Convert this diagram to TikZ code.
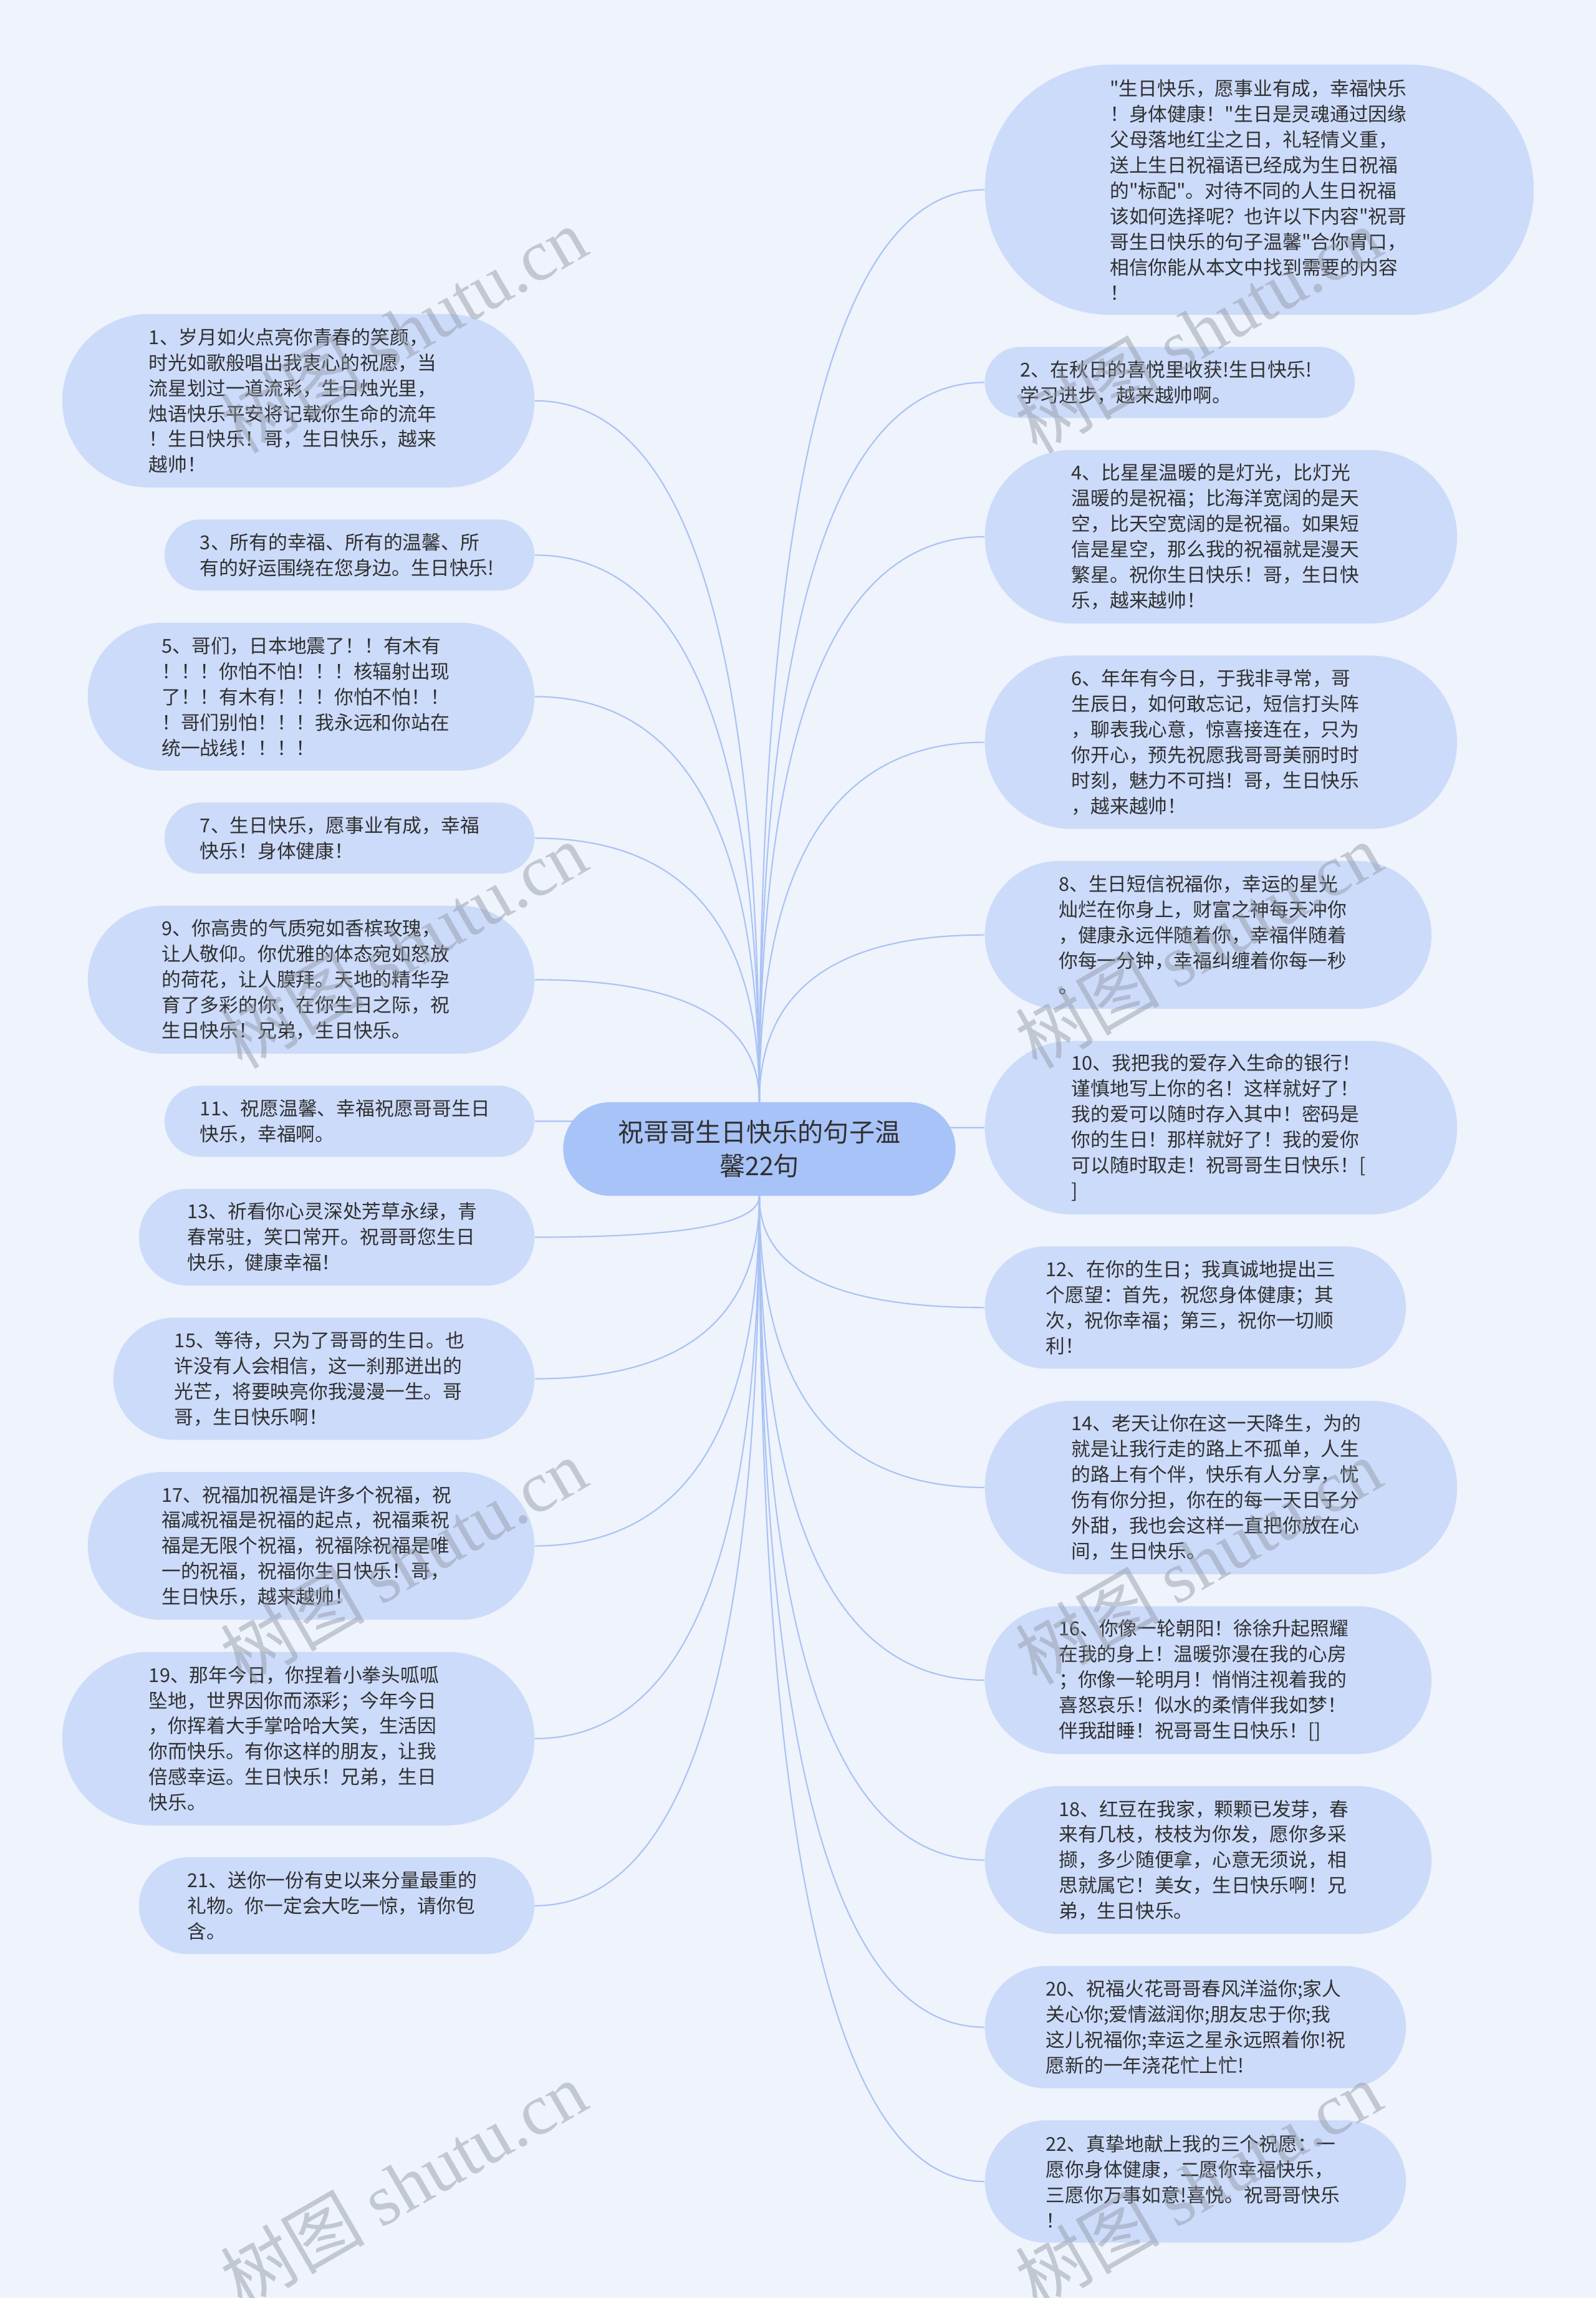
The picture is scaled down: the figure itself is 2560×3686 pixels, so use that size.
\documentclass[tikz,border=0pt]{standalone}
\usepackage{fontspec}
\setmainfont{Noto Sans CJK SC}[Ligatures=TeXOff]
\newfontfamily\latinserif{Liberation Serif}
\usepackage{xcolor}
\definecolor{fond}{HTML}{EEF3FC}
\definecolor{bleuclair}{HTML}{CCDBFA}
\definecolor{bleucentre}{HTML}{A8C3F8}
\definecolor{bleulien}{HTML}{A9C2F5}
\definecolor{encre}{HTML}{303030}
\definecolor{grisfil}{HTML}{8E95A0}
\usetikzlibrary{positioning,calc,backgrounds}

\begin{document}
\begin{tikzpicture}[x=0.01cm,y=-0.01cm,
  every node/.style={font=\fontsize{8.75pt}{11.65pt}\selectfont,text=encre},
  bulle/.style={fill=bleuclair,text width=4.79cm,align=left,inner ysep=0pt,
    inner xsep=#1/2,minimum height=#1,rounded corners=#1/2},
  centre/.style={fill=bleucentre,text width=4.79cm,align=center,inner ysep=0pt,
    inner xsep=0.75cm,minimum height=1.5cm,rounded corners=0.75cm,
    font=\fontsize{11.7pt}{15.3pt}\selectfont},
  lien/.style={draw=bleulien,line width=0.6pt},
  filigrane/.style={font=\fontsize{33pt}{33pt}\selectfont,text=grisfil,text opacity=0.45,rotate=30}
]
\useasboundingbox (0,0) rectangle (2560,3686);
\node[centre] (c) at (1218,1843) {祝哥哥生日快乐的句子温\\馨22句};

% colonne gauche
\node[bulle=2.78cm,anchor=north east] (g1) at (858,503) {1、岁月如火点亮你青春的笑颜，\\时光如歌般唱出我衷心的祝愿，当\\流星划过一道流彩，生日烛光里，\\烛语快乐平安将记载你生命的流年\\！生日快乐！哥，生日快乐，越来\\越帅！};
\node[bulle=1.14cm,below=0.5cm of g1.south east,anchor=north east] (g3) {3、所有的幸福、所有的温馨、所\\有的好运围绕在您身边。生日快乐!};
\node[bulle=2.37cm,below=0.5cm of g3.south east,anchor=north east] (g5) {5、哥们，日本地震了！！有木有\\！！！你怕不怕！！！核辐射出现\\了！！有木有！！！你怕不怕！！\\！哥们别怕！！！我永远和你站在\\统一战线！！！！};
\node[bulle=1.14cm,below=0.5cm of g5.south east,anchor=north east] (g7) {7、生日快乐，愿事业有成，幸福\\快乐！身体健康！};
\node[bulle=2.37cm,below=0.5cm of g7.south east,anchor=north east] (g9) {9、你高贵的气质宛如香槟玫瑰，\\让人敬仰。你优雅的体态宛如怒放\\的荷花，让人膜拜。天地的精华孕\\育了多彩的你，在你生日之际，祝\\生日快乐！兄弟，生日快乐。};
\node[bulle=1.14cm,below=0.5cm of g9.south east,anchor=north east] (g11) {11、祝愿温馨、幸福祝愿哥哥生日\\快乐，幸福啊。};
\node[bulle=1.55cm,below=0.5cm of g11.south east,anchor=north east] (g13) {13、祈看你心灵深处芳草永绿，青\\春常驻，笑口常开。祝哥哥您生日\\快乐，健康幸福！};
\node[bulle=1.96cm,below=0.5cm of g13.south east,anchor=north east] (g15) {15、等待，只为了哥哥的生日。也\\许没有人会相信，这一刹那迸出的\\光芒，将要映亮你我漫漫一生。哥\\哥，生日快乐啊！};
\node[bulle=2.37cm,below=0.5cm of g15.south east,anchor=north east] (g17) {17、祝福加祝福是许多个祝福，祝\\福减祝福是祝福的起点，祝福乘祝\\福是无限个祝福，祝福除祝福是唯\\一的祝福，祝福你生日快乐！哥，\\生日快乐，越来越帅！};
\node[bulle=2.78cm,below=0.5cm of g17.south east,anchor=north east] (g19) {19、那年今日，你捏着小拳头呱呱\\坠地，世界因你而添彩；今年今日\\，你挥着大手掌哈哈大笑，生活因\\你而快乐。有你这样的朋友，让我\\倍感幸运。生日快乐！兄弟，生日\\快乐。};
\node[bulle=1.55cm,below=0.5cm of g19.south east,anchor=north east] (g21) {21、送你一份有史以来分量最重的\\礼物。你一定会大吃一惊，请你包\\含。};

% colonne droite
\node[bulle=4.01cm,anchor=north west] (d0) at (1579,103) {"生日快乐，愿事业有成，幸福快乐\\！身体健康！"生日是灵魂通过因缘\\父母落地红尘之日，礼轻情义重，\\送上生日祝福语已经成为生日祝福\\的"标配"。对待不同的人生日祝福\\该如何选择呢？也许以下内容"祝哥\\哥生日快乐的句子温馨"合你胃口，\\相信你能从本文中找到需要的内容\\！};
\node[bulle=1.14cm,below=0.5cm of d0.south west,anchor=north west] (d2) {2、在秋日的喜悦里收获!生日快乐!\\学习进步，越来越帅啊。};
\node[bulle=2.78cm,below=0.5cm of d2.south west,anchor=north west] (d4) {4、比星星温暖的是灯光，比灯光\\温暖的是祝福；比海洋宽阔的是天\\空，比天空宽阔的是祝福。如果短\\信是星空，那么我的祝福就是漫天\\繁星。祝你生日快乐！哥，生日快\\乐，越来越帅！};
\node[bulle=2.78cm,below=0.5cm of d4.south west,anchor=north west] (d6) {6、年年有今日，于我非寻常，哥\\生辰日，如何敢忘记，短信打头阵\\，聊表我心意，惊喜接连在，只为\\你开心，预先祝愿我哥哥美丽时时\\时刻，魅力不可挡！哥，生日快乐\\，越来越帅！};
\node[bulle=2.37cm,below=0.5cm of d6.south west,anchor=north west] (d8) {8、生日短信祝福你，幸运的星光\\灿烂在你身上，财富之神每天冲你\\，健康永远伴随着你，幸福伴随着\\你每一分钟，幸福纠缠着你每一秒\\。};
\node[bulle=2.78cm,below=0.5cm of d8.south west,anchor=north west] (d10) {10、我把我的爱存入生命的银行！\\谨慎地写上你的名！这样就好了！\\我的爱可以随时存入其中！密码是\\你的生日！那样就好了！我的爱你\\可以随时取走！祝哥哥生日快乐！[\\]};
\node[bulle=1.96cm,below=0.5cm of d10.south west,anchor=north west] (d12) {12、在你的生日；我真诚地提出三\\个愿望：首先，祝您身体健康；其\\次，祝你幸福；第三，祝你一切顺\\利！};
\node[bulle=2.78cm,below=0.5cm of d12.south west,anchor=north west] (d14) {14、老天让你在这一天降生，为的\\就是让我行走的路上不孤单，人生\\的路上有个伴，快乐有人分享，忧\\伤有你分担，你在的每一天日子分\\外甜，我也会这样一直把你放在心\\间，生日快乐。};
\node[bulle=2.37cm,below=0.5cm of d14.south west,anchor=north west] (d16) {16、你像一轮朝阳！徐徐升起照耀\\在我的身上！温暖弥漫在我的心房\\；你像一轮明月！悄悄注视着我的\\喜怒哀乐！似水的柔情伴我如梦！\\伴我甜睡！祝哥哥生日快乐！[]};
\node[bulle=2.37cm,below=0.5cm of d16.south west,anchor=north west] (d18) {18、红豆在我家，颗颗已发芽，春\\来有几枝，枝枝为你发，愿你多采\\撷，多少随便拿，心意无须说，相\\思就属它！美女，生日快乐啊！兄\\弟，生日快乐。};
\node[bulle=1.96cm,below=0.5cm of d18.south west,anchor=north west] (d20) {20、祝福火花哥哥春风洋溢你;家人\\关心你;爱情滋润你;朋友忠于你;我\\这儿祝福你;幸运之星永远照着你!祝\\愿新的一年浇花忙上忙!};
\node[bulle=1.96cm,below=0.5cm of d20.south west,anchor=north west] (d22) {22、真挚地献上我的三个祝愿：一\\愿你身体健康，二愿你幸福快乐，\\三愿你万事如意!喜悦。祝哥哥快乐\\！};

% fond et liens
\begin{scope}[on background layer]
\fill[fond] (0,0) rectangle (2560,3686);
\foreach \n in {g1,g3,g5,g7,g9}
  \draw[lien] (\n.east) .. controls ($(\n.east)!2/3!(c.north |- \n.east)$) and ($(c.north)!2/3!(c.north |- \n.east)$) .. (c.north);
\foreach \n in {g13,g15,g17,g19,g21}
  \draw[lien] (\n.east) .. controls ($(\n.east)!2/3!(c.south |- \n.east)$) and ($(c.south)!2/3!(c.south |- \n.east)$) .. (c.south);
\foreach \n in {d0,d2,d4,d6,d8}
  \draw[lien] (\n.west) .. controls ($(\n.west)!2/3!(c.north |- \n.west)$) and ($(c.north)!2/3!(c.north |- \n.west)$) .. (c.north);
\foreach \n in {d12,d14,d16,d18,d20,d22}
  \draw[lien] (\n.west) .. controls ($(\n.west)!2/3!(c.south |- \n.west)$) and ($(c.south)!2/3!(c.south |- \n.west)$) .. (c.south);
\draw[lien] (g11.east) .. controls ($(g11.east)!2/3!(c.center |- g11.east)$) .. (c.center);
\draw[lien] (d10.west) .. controls ($(d10.west)!2/3!(c.center |- d10.west)$) .. (c.center);
\end{scope}

% filigrane
\node[filigrane] (w1) at (647,529) {树图 {\latinserif shutu.cn}};
\node[filigrane] (w2) at (647,1516) {树图 {\latinserif shutu.cn}};
\node[filigrane] (w3) at (647,2504) {树图 {\latinserif shutu.cn}};
\node[filigrane] (w4) at (647,3503) {树图 {\latinserif shutu.cn}};
\node[filigrane] (w5) at (1922,529) {树图 {\latinserif shutu.cn}};
\node[filigrane] (w6) at (1922,1516) {树图 {\latinserif shutu.cn}};
\node[filigrane] (w7) at (1922,2504) {树图 {\latinserif shutu.cn}};
\node[filigrane] (w8) at (1922,3503) {树图 {\latinserif shutu.cn}};
\end{tikzpicture}
\end{document}
